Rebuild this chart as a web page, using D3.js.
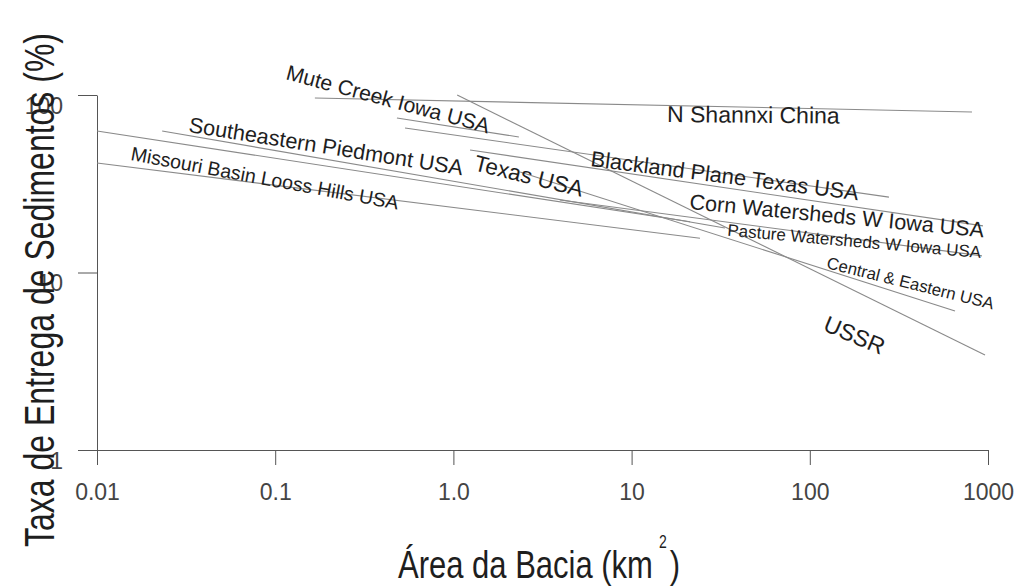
<!DOCTYPE html>
<html>
<head>
<meta charset="utf-8">
<script src="https://d3js.org/d3.v7.min.js"></script>
<style>
body { margin: 0; background: #fff; }
svg { font-family: "Liberation Sans", Arial, sans-serif; }
.curve { stroke: #8a8a8a; stroke-width: 1.1; fill: none; }
.axis path, .axis line { stroke: #555; stroke-width: 1; }
.axis text { fill: #444; }
</style>
</head>
<body>
<div id="plot"></div>
<script>
var width = 1015;
var height = 587;

// axis ticks
var xTicks = [0.01, 0.1, 1, 10, 100, 1000];
var xTickLabels = ["0.01", "0.1", "1.0", "10", "100", "1000"];
var yTicks = [1, 10, 100];
var yTickLabels = ["1", "10", "100"];

// each relation is a straight line on log-log axes: from (x0,y0) to (x1,y1)
var names = ["N Shannxi China", "Mute Creek Iowa USA", "USSR", "Blackland Plane Texas USA",
  "Corn Watersheds W Iowa USA", "Texas USA", "Southeastern Piedmont USA",
  "Missouri Basin Looss Hills USA", "Pasture Watersheds W Iowa USA", "Central & Eastern USA"];
var x0 = [0.167, 0.482, 1.05, 0.535, 1.24, 0.0232, 0.01, 0.01, 3.96, 2.37];
var x1 = [813, 2.33, 962, 278, 937, 33.4, 21.3, 24.2, 925, 653];
var y0 = [96.2, 74.2, 100, 65.2, 49, 62.7, 62.7, 41.4, 25.6, 36.8];
var y1 = [80.2, 58.0, 3.43, 26.6, 18.3, 17.8, 19.3, 15.6, 12.4, 6.07];

// where each label starts (data units), its tilt and size
var labelX = [15.8, 0.1135, 117, 5.85, 21, 1.29, 0.0324, 0.0153, 34.3, 123];
var labelY = [70.4, 123, 4.74, 39.8, 22.8, 37.8, 61.9, 43, 16.1, 10.6];
var labelAngle = [0.5, 15, 23, 7.3, 5.5, 14, 9, 10.5, 5, 14];
var labelSize = [23, 21.2, 23, 21.8, 21.6, 22.5, 21.7, 19.5, 17, 16.8];

var svg = d3.select("#plot").append("svg").attr("width", width).attr("height", height);

var x = d3.scaleLog().domain([0.01, 1000]).range([97, 988]);
var y = d3.scaleLog().domain([1, 100]).range([450, 95]);

var xAxis = svg.append("g").attr("class", "axis")
  .attr("transform", "translate(0,450)")
  .call(d3.axisBottom(x).tickValues(xTicks)
    .tickFormat(function(d, i) { return xTickLabels[i]; })
    .tickSize(15).tickSizeOuter(0).tickPadding(19));
xAxis.attr("font-size", 23).attr("font-family", null);

var yAxis = svg.append("g").attr("class", "axis")
  .attr("transform", "translate(97,0)")
  .call(d3.axisLeft(y).tickValues(yTicks)
    .tickFormat(function(d, i) { return yTickLabels[i]; })
    .tickSize(19).tickSizeOuter(0).tickPadding(15));
yAxis.attr("font-size", 23).attr("font-family", null);
yAxis.selectAll("text").attr("dy", "0.8em");

var rows = names.map(function(n, i) {
  return { name: n, x0: x0[i], x1: x1[i], y0: y0[i], y1: y1[i],
    lx: labelX[i], ly: labelY[i], angle: labelAngle[i], size: labelSize[i] };
});

svg.selectAll(".curve").data(rows).enter().append("line")
  .attr("class", "curve")
  .attr("x1", function(d) { return x(d.x0); })
  .attr("y1", function(d) { return y(d.y0); })
  .attr("x2", function(d) { return x(d.x1); })
  .attr("y2", function(d) { return y(d.y1); });

svg.selectAll(".lbl").data(rows).enter().append("text")
  .attr("class", "lbl")
  .attr("transform", function(d) {
    return "translate(" + x(d.lx) + "," + y(d.ly) + ") rotate(" + d.angle + ")";
  })
  .attr("font-size", function(d) { return d.size; })
  .attr("fill", "#1e1e1e")
  .text(function(d) { return d.name; });

// axis titles (the scanned titles are a bit taller than wide)
var xt = svg.append("text")
  .attr("transform", "translate(398,578) scale(1,1.25)")
  .attr("font-size", 31).attr("fill", "#1e1e1e");
xt.append("tspan").text("Área da Bacia (km");
xt.append("tspan").attr("font-size", 14).attr("dy", -24).attr("dx", 6).text("2");
xt.append("tspan").attr("dy", 24).attr("dx", 3).text(")");

svg.append("text")
  .attr("transform", "translate(54,290) rotate(-90) scale(1,1.3)")
  .attr("text-anchor", "middle")
  .attr("font-size", 32).attr("fill", "#1e1e1e")
  .text("Taxa de Entrega de Sedimentos (%)");
</script>
</body>
</html>
